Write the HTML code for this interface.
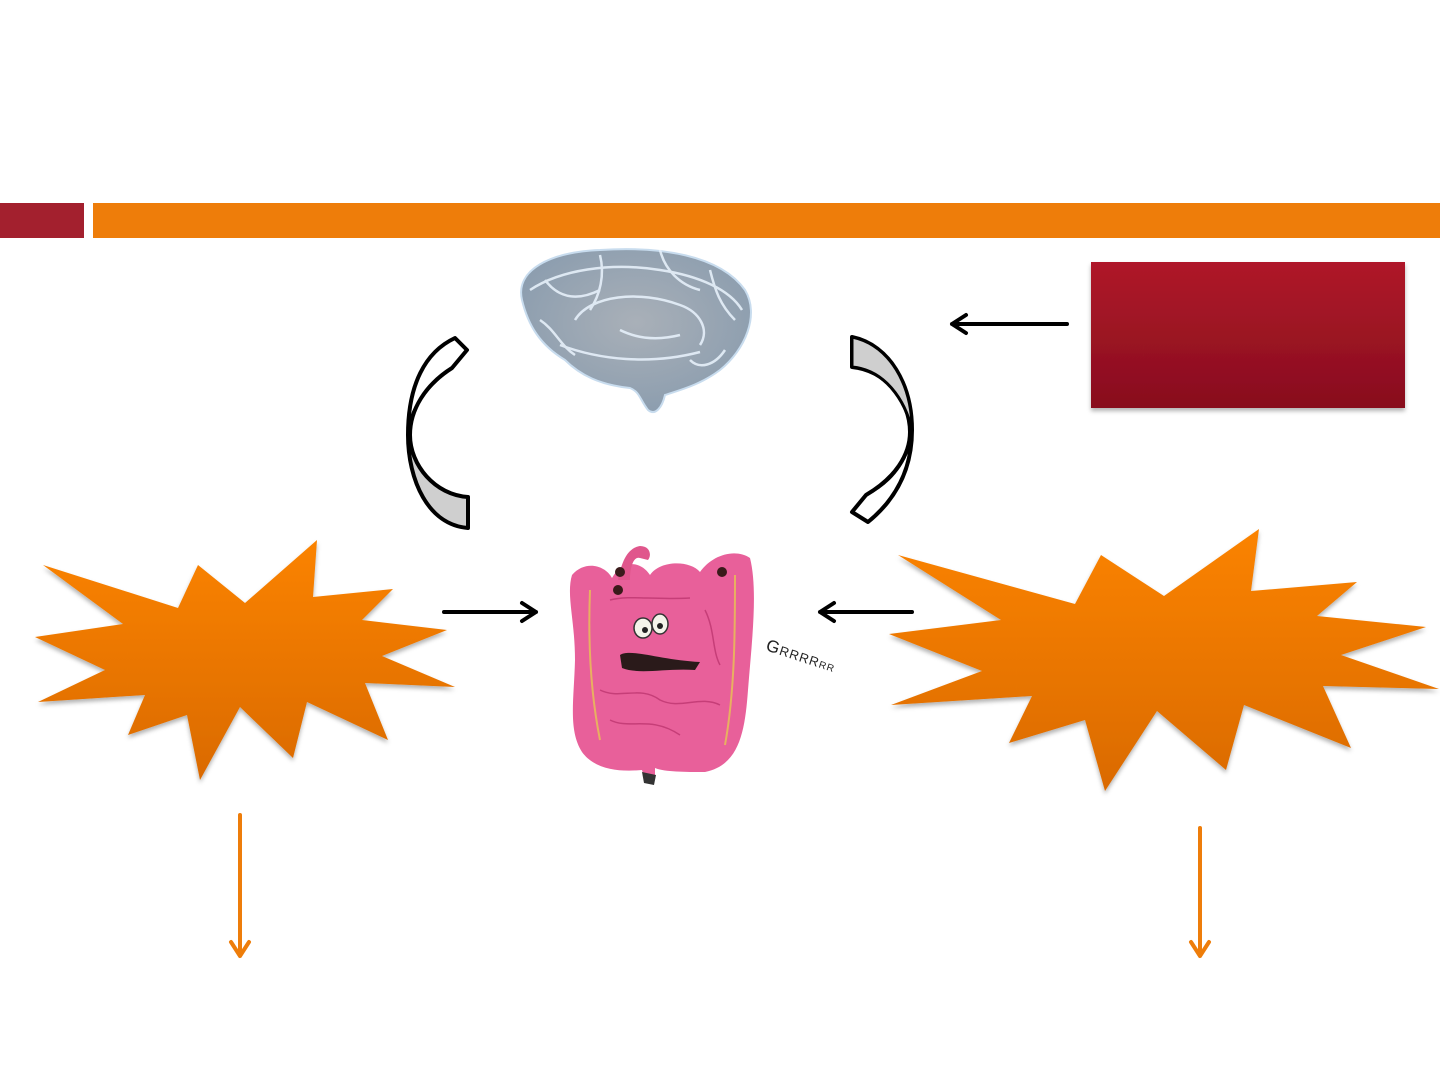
<!DOCTYPE html>
<html><head><meta charset="utf-8"><style>
html,body{margin:0;padding:0;background:#fff;}
body{width:1440px;height:1080px;overflow:hidden;position:relative;font-family:"Liberation Sans",sans-serif;}
</style></head><body>
<svg width="1440" height="1080" viewBox="0 0 1440 1080" xmlns="http://www.w3.org/2000/svg" style="position:absolute;left:0;top:0">
<defs>
<linearGradient id="og" x1="0" y1="0" x2="0" y2="1"><stop offset="0" stop-color="#fb8300"/><stop offset="1" stop-color="#da6a00"/></linearGradient>
<linearGradient id="rg" x1="0" y1="0" x2="0" y2="1"><stop offset="0" stop-color="#af1729"/><stop offset="1" stop-color="#880e1e"/></linearGradient>
<linearGradient id="lg" x1="0" y1="0" x2="0" y2="1"><stop offset="0.55" stop-color="#fff"/><stop offset="0.55" stop-color="#cfcfcf"/></linearGradient>
<radialGradient id="bg" cx="0.5" cy="0.45" r="0.6"><stop offset="0" stop-color="#a9b0b8"/><stop offset="1" stop-color="#8a9cae"/></radialGradient>
<filter id="sh" x="-5%" y="-5%" width="110%" height="115%"><feDropShadow dx="0" dy="3" stdDeviation="2" flood-color="#000" flood-opacity="0.3"/></filter>
</defs>
<rect x="0" y="203" width="84" height="35" fill="#a3202e"/>
<rect x="93" y="203" width="1347" height="35" fill="#ee7d0a"/>

<!-- brain -->
<path d="M522,300 C515,270 550,252 600,250 C660,246 720,255 745,290 C760,315 745,350 720,370 C700,385 680,390 665,395 C662,408 655,416 648,410 C640,400 640,392 630,388 C600,385 580,375 565,360 C540,345 528,325 522,300 Z" fill="url(#bg)" stroke="#c8dcee" stroke-width="2"/>
<g fill="none" stroke="#e6f0fa" stroke-width="2.5" opacity="0.9">
<path d="M530,290 C560,270 610,262 660,270 C700,276 730,290 742,310"/>
<path d="M575,320 C590,295 640,290 680,305 C700,312 710,330 700,345"/>
<path d="M560,345 C600,360 650,365 700,352"/>
<path d="M600,255 C605,275 600,295 590,310"/>
<path d="M660,250 C665,270 680,285 700,290"/>
<path d="M540,320 C555,330 560,345 575,355"/>
<path d="M620,330 C640,340 660,340 680,335"/>
<path d="M710,270 C715,290 720,305 735,320"/>
<path d="M545,280 C560,300 580,300 600,290"/>
<path d="M690,360 C700,370 715,365 725,350"/>
</g>

<!-- gut -->
<g>
<path d="M572,575 C585,560 605,565 612,578 C622,560 640,560 650,575 C660,560 690,560 700,572 C712,555 735,548 750,558 C758,590 752,640 748,690 C745,730 740,765 705,772 C685,772 665,772 655,768 L655,778 C652,785 645,782 642,770 C620,772 595,770 582,752 C568,730 574,700 575,660 C575,620 566,595 572,575 Z" fill="#e8609a"/>
<path d="M618,580 C622,560 628,548 640,546 C650,546 652,555 648,560 L640,558 C634,556 630,566 630,580 Z" fill="#e0568c"/>
<path d="M590,590 C588,640 590,690 600,740 M735,575 C735,630 735,690 725,745" stroke="#e8b060" stroke-width="2" fill="none"/>
<g fill="none" stroke="#b8306a" stroke-width="1.5" opacity="0.7">
<path d="M610,600 C630,595 650,600 690,598"/><path d="M600,690 C620,700 640,685 660,700 C680,710 700,695 720,705"/>
<path d="M610,720 C630,730 650,715 680,735"/><path d="M705,610 C715,630 712,650 720,665"/>
</g>
<ellipse cx="643" cy="628" rx="9" ry="10" fill="#f4f4ea" stroke="#333" stroke-width="1.5"/>
<ellipse cx="660" cy="624" rx="8" ry="10" fill="#f4f4ea" stroke="#333" stroke-width="1.5"/>
<circle cx="645" cy="630" r="3" fill="#222"/><circle cx="660" cy="626" r="3" fill="#222"/>
<path d="M620,655 C630,648 660,660 700,662 L695,670 C665,668 640,675 622,668 Z" fill="#2a1a1a"/>
<circle cx="620" cy="572" r="5" fill="#3a1a1a"/><circle cx="722" cy="572" r="5" fill="#3a1a1a"/><circle cx="618" cy="590" r="5" fill="#3a1a1a"/>
<path d="M642,772 L656,775 L654,785 L644,783 Z" fill="#333"/>
</g>
<text x="765" y="650" font-size="17" fill="#222" transform="rotate(18 765 650)" letter-spacing="1">G<tspan font-size="13">RRRR</tspan><tspan font-size="10">RR</tspan></text>

<!-- curved arrows -->
<path d="M455,338 L467,350 L452,368 C425,385 410,410 410,435 C410,465 435,495 468,497 L468,528 C428,525 408,480 408,435 C408,385 425,352 455,338 Z" fill="url(#lg)" stroke="#000" stroke-width="4" stroke-linejoin="round"/>
<path d="M452,368 C420,390 405,420 410,440" fill="none" stroke="#000" stroke-width="3"/>
<path d="M852,337 C890,345 912,385 912,430 C912,470 895,500 868,522 L852,512 L866,495 C895,478 910,455 910,432 C910,400 885,370 852,367 Z" fill="#fff" stroke="#000" stroke-width="4" stroke-linejoin="round"/>
<path d="M852,337 C890,345 912,385 912,430 C905,400 885,370 852,367 Z" fill="#cfcfcf" stroke="#000" stroke-width="3" stroke-linejoin="round"/>
<path d="M866,495 C895,480 912,455 910,425" fill="none" stroke="#000" stroke-width="3"/>

<!-- red box -->
<rect x="1091" y="262" width="314" height="146" fill="url(#rg)" filter="url(#sh)"/>

<!-- stars -->
<polygon filter="url(#sh)" fill="url(#og)" points="43,565 178,608 198,565 245,603 317,540 313,597 393,589 362,620 447,630 382,656 455,687 365,683 388,740 307,702 293,758 240,707 200,780 187,715 128,735 145,695 38,702 105,670 35,637 123,624"/>
<polygon filter="url(#sh)" fill="url(#og)" points="898,555 1075,604 1101,555 1164,596 1259,529 1251,591 1357,582 1317,616 1426,627 1341,655 1439,689 1323,686 1351,748 1244,705 1226,770 1157,711 1105,791 1085,720 1009,743 1032,696 891,705 982,671 889,634 1001,620"/>

<!-- straight arrows -->
<g stroke="#000" stroke-width="4" fill="none" stroke-linecap="round" stroke-linejoin="round">
<path d="M1067,324 L952,324 M966,315 L952,324 L966,333"/>
<path d="M444,612 L536,612 M522,603 L536,612 L522,621"/>
<path d="M912,612 L820,612 M834,603 L820,612 L834,621"/>
</g>
<g stroke="#ee7d0a" stroke-width="4" fill="none" stroke-linecap="round" stroke-linejoin="round">
<path d="M240,815 L240,956 M231,942 L240,956 L249,942"/>
<path d="M1200,828 L1200,956 M1191,942 L1200,956 L1209,942"/>
</g>
</svg>
</body></html>
